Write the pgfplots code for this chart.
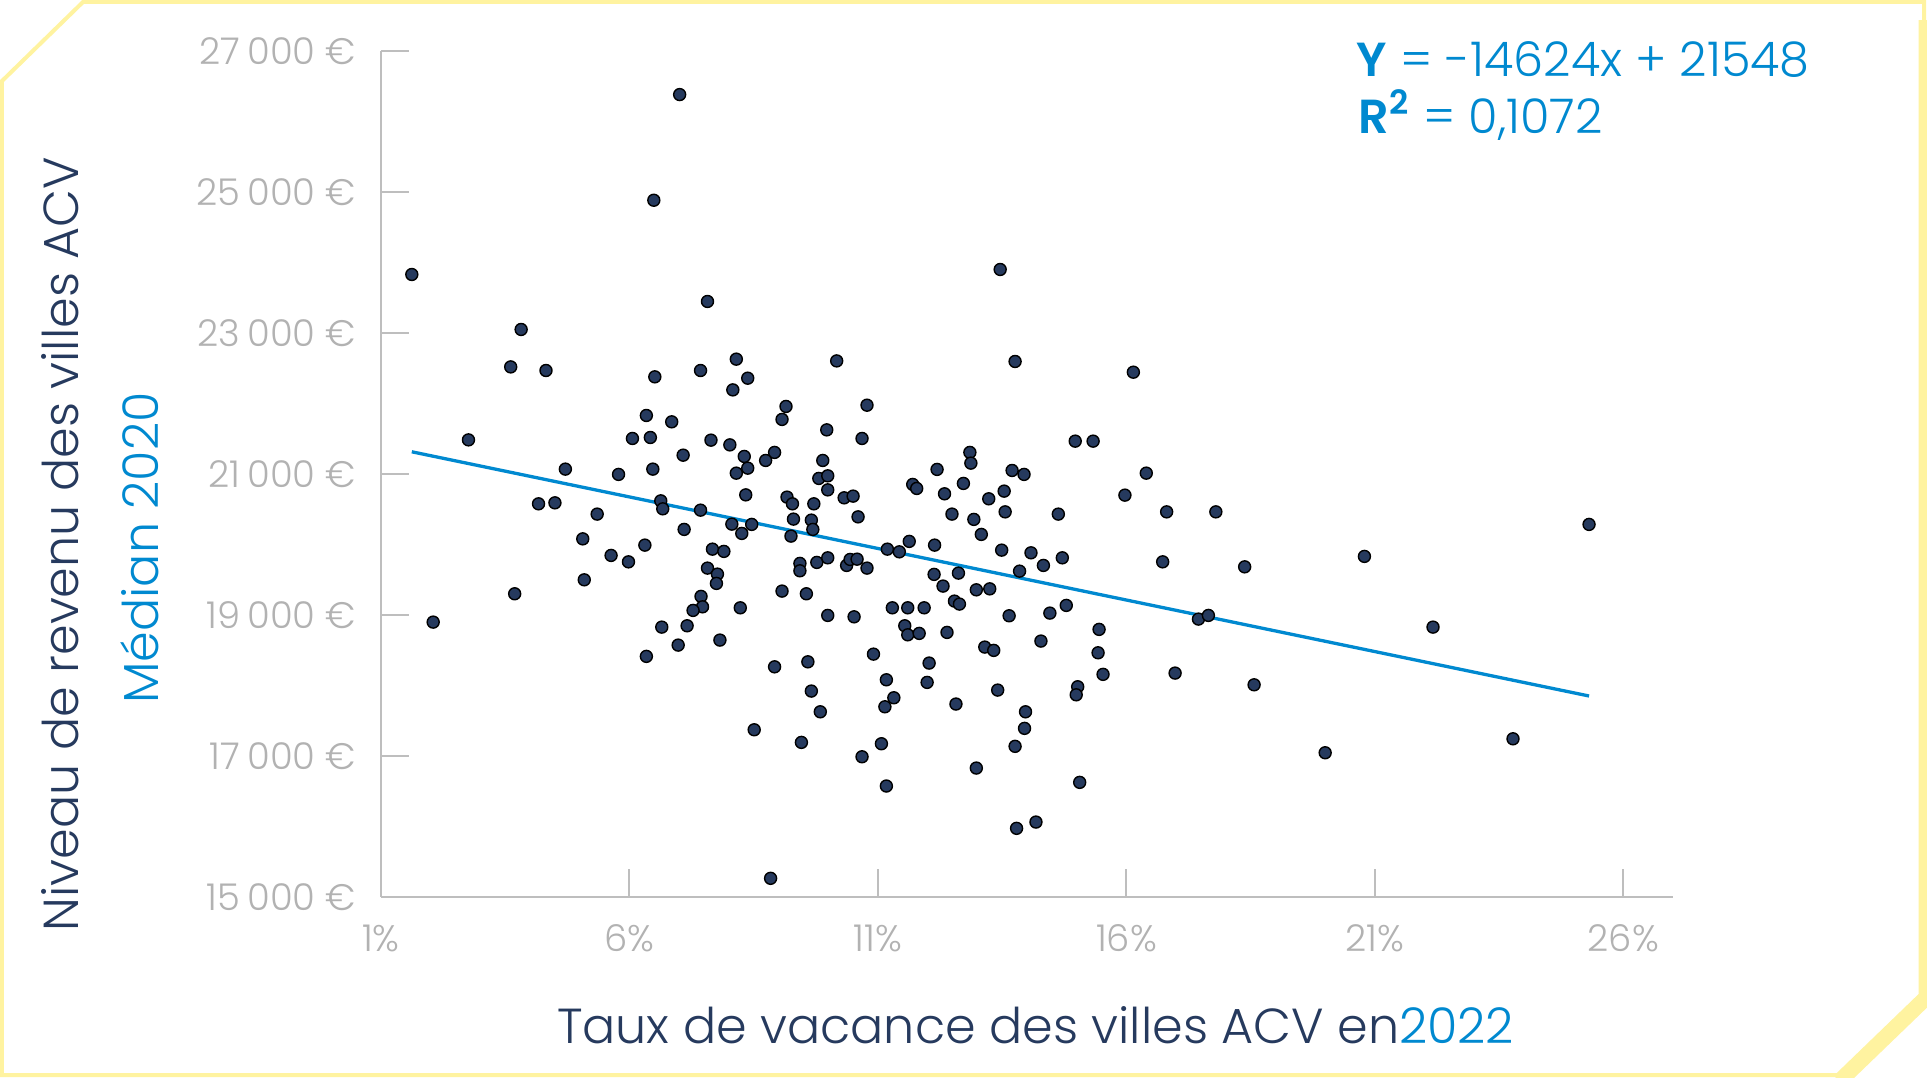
\documentclass[border=0pt]{standalone}
\usepackage{fontspec}
\setmainfont{Poppins}[UprightFont=* Light, BoldFont=* SemiBold]
\usepackage{pgfplots}
\pgfplotsset{compat=1.18}
\definecolor{navy}{RGB}{38,58,94}
\definecolor{cblue}{RGB}{0,137,208}
\definecolor{tickgray}{RGB}{178,178,178}
\definecolor{axgray}{RGB}{190,190,190}
\definecolor{frameyellow}{RGB}{255,243,160}

\pgfplotstableread{
p v
1.62 23826
7.57 23443
3.82 23046
3.61 22515
4.32 22464
8.15 22625
7.43 22464
8.38 22355
6.51 22374
8.08 22189
6.34 21826
6.85 21736
2.76 21480
6.06 21500
6.42 21514
7.64 21476
8.02 21409
7.08 21263
8.31 21245
4.71 21065
5.78 20990
6.47 21065
8.15 21008
8.38 21079
8.34 20700
4.17 20573
4.50 20587
5.35 20427
6.63 20615
6.67 20502
7.43 20483
7.10 20210
8.06 20285
8.46 20281
8.26 20153
5.06 20076
6.31 19987
5.63 19841
5.98 19750
7.67 19930
7.90 19898
5.09 19495
7.57 19661
7.77 19576
7.75 19444
3.69 19297
7.44 19260
7.47 19112
7.28 19061
8.23 19098
2.05 18895
6.65 18824
7.16 18843
6.98 18569
7.82 18640
6.34 18409
8.51 17368
13.46 23897
10.17 22600
13.76 22592
9.15 21954
9.07 21770
10.78 21972
9.97 21622
10.68 21500
14.97 21462
15.33 21462
8.92 21302
8.74 21188
9.89 21188
9.81 20933
9.99 20970
9.99 20771
9.17 20668
9.28 20573
9.71 20573
10.32 20658
10.50 20682
9.30 20356
9.66 20342
9.69 20210
10.60 20388
9.25 20115
12.19 21061
12.85 21302
12.87 21150
11.70 20848
11.78 20791
12.34 20715
12.72 20862
13.23 20644
13.54 20753
13.70 21046
13.94 20990
12.49 20427
12.93 20352
13.56 20459
14.63 20427
13.08 20139
11.19 19930
11.43 19892
11.63 20040
12.14 19987
13.49 19916
14.08 19878
14.71 19807
14.33 19699
13.85 19618
9.43 19728
9.43 19623
9.77 19742
9.99 19807
10.37 19699
10.44 19784
10.58 19788
10.78 19661
12.13 19572
12.62 19590
12.31 19406
12.98 19353
13.25 19367
9.07 19335
9.56 19297
9.99 18990
10.52 18970
11.29 19098
11.60 19098
11.93 19098
12.54 19193
12.64 19151
11.54 18843
11.60 18715
11.83 18735
12.39 18749
13.64 18985
14.46 19023
14.79 19132
10.91 18441
13.15 18541
13.33 18494
14.28 18626
15.45 18792
15.43 18460
15.53 18154
8.92 18261
9.59 18332
9.66 17917
9.84 17623
9.46 17189
10.68 16985
11.07 17170
11.17 18077
11.32 17822
11.14 17694
12.03 18314
11.99 18040
12.57 17733
13.41 17931
11.17 16570
12.98 16825
13.97 17623
13.95 17388
13.76 17133
15.02 17978
14.99 17864
15.06 16622
13.79 15970
14.18 16059
8.84 15261
16.14 22440
16.40 21008
15.97 20696
16.81 20459
17.80 20459
25.31 20281
16.73 19750
18.38 19679
20.79 19827
17.45 18938
17.65 18990
22.17 18824
16.98 18172
18.57 18006
20.00 17042
23.78 17240
7.01 26378
6.49 24879
}\villes

\begin{document}
\begin{tikzpicture}[x=1mm,y=1mm]
\useasboundingbox (0,0) rectangle (192.7,-107.7);
\fill[white] (0,0) rectangle (192.7,-107.7);
% frame
\draw[frameyellow, line width=0.4mm, line join=miter]
  (0.2,-8.1) -- (8.3,-0.2) -- (192.4,-0.2) -- (192.4,-100) -- (184,-107.5) -- (0.2,-107.5) -- cycle;
\draw[frameyellow, line width=0.9mm, line join=miter]
  (192.3,-2) -- (192.3,-99.6) -- (183.7,-107.9);
\draw[frameyellow, line width=1.1mm] (192.9,-99.8) -- (184.4,-108);

\begin{axis}[
  at={(38.1mm,-89.67mm)}, anchor=south west,
  scale only axis, width=129.2mm, height=84.6mm,
  xmin=1, xmax=27, ymin=15000, ymax=27000,
  scaled ticks=false,
  axis lines=left,
  axis line style={axgray, line width=0.2mm, -},
  xtick={1,6,11,16,21,26},
  xticklabels={1\%,6\%,11\%,16\%,21\%,26\%},
  ytick={15000,17000,19000,21000,23000,25000,27000},
  yticklabels={15\hspace{0.2em}000 €,17\hspace{0.2em}000 €,19\hspace{0.2em}000 €,21\hspace{0.2em}000 €,23\hspace{0.2em}000 €,25\hspace{0.2em}000 €,27\hspace{0.2em}000 €},
  tick align=inside,
  major tick length=2.8mm,
  tick style={axgray, line width=0.2mm},
  ticklabel style={font=\fontsize{10.5}{13}\selectfont, text=tickgray},
  xticklabel style={anchor=base, inner sep=0pt, yshift=-5.45mm},
  yticklabel style={anchor=east, inner sep=0pt, xshift=-2.43mm},
  clip=false,
]
\addplot[cblue, line width=0.33mm] coordinates {(1.62,21311) (25.31,17847)};
\addplot[only marks, mark=*, mark size=0.6mm, mark options={fill=navy, draw=none}] table[x=p, y=v] {\villes};
\end{axis}

\node[rotate=90, anchor=base, text=navy, font=\fontsize{14}{16}\selectfont, inner sep=0pt]
  at (7.83,-54.4) {Niveau de revenu des villes ACV};
\node[rotate=90, anchor=base, text=cblue, font=\fontsize{14}{16}\selectfont, inner sep=0pt]
  at (15.83,-54.8) {Médian 2020};
\node[anchor=base, font=\fontsize{14}{16}\selectfont, inner sep=0pt]
  at (103.55,-104.35) {\textcolor{navy}{Taux de vacance des villes ACV en}\textcolor{cblue}{2022}};
\node[anchor=base west, text=cblue, font=\fontsize{13.6}{16}\selectfont, inner sep=0pt]
  at (135.6,-7.67) {\textbf{Y} = -14624x + 21548};
\node[anchor=base west, text=cblue, font=\fontsize{13.6}{16}\selectfont, inner sep=0pt]
  at (135.8,-13.33) {\textbf{R\textsuperscript{2}} = 0,1072};
\end{tikzpicture}
\end{document}
